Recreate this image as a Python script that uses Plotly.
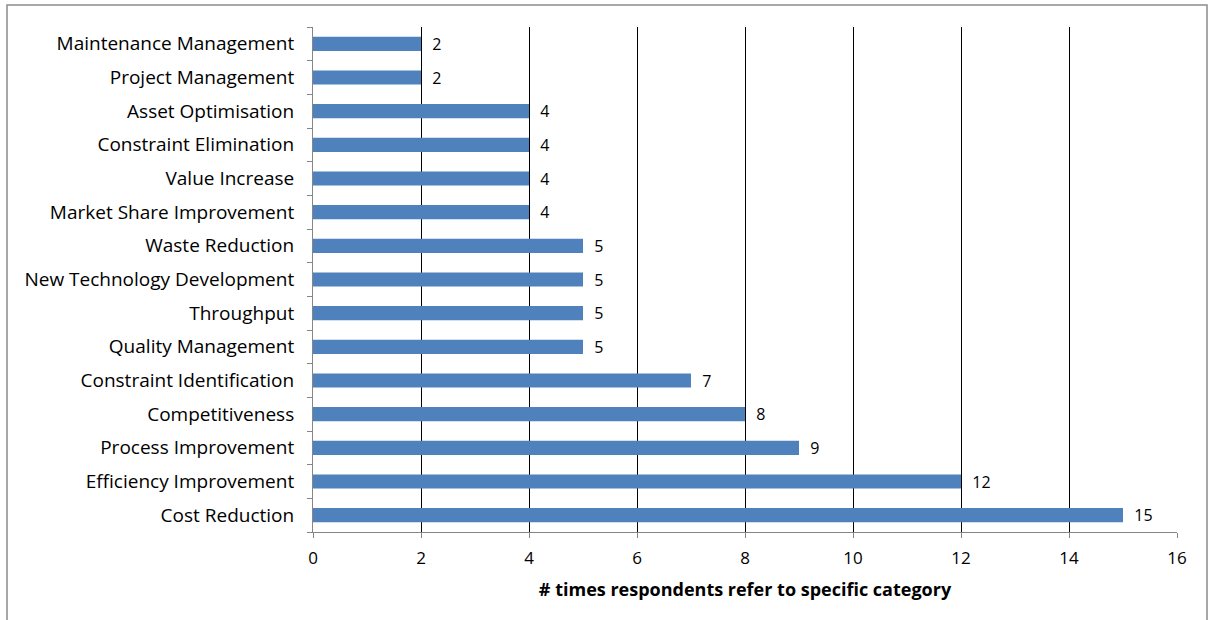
import plotly.graph_objects as go

categories = ["Cost Reduction", "Efficiency Improvement", "Process Improvement", "Competitiveness",
              "Constraint Identification", "Quality Management", "Throughput",
              "New Technology Development", "Waste Reduction", "Market Share Improvement",
              "Value Increase", "Constraint Elimination", "Asset Optimisation",
              "Project Management", "Maintenance Management"]
values = [15, 12, 9, 8, 7, 5, 5, 5, 5, 4, 4, 4, 4, 2, 2]
x_ticks = [0, 2, 4, 6, 8, 10, 12, 14, 16]
x_title = "# times respondents refer to specific category"

FONT = "'Open Sans', 'Noto Sans', sans-serif"

fig = go.Figure(go.Bar(
    y=categories, x=values, orientation="h",
    marker=dict(color="#4F81BD", line=dict(width=0)),
    width=0.42,
    text=["  " + str(v) for v in values], textposition="outside",
    textfont=dict(family=FONT, size=16, color="#000000"),
    constraintext="none",
    cliponaxis=False,
))

fig.update_layout(
    width=1211, height=620,
    margin=dict(l=313, r=34, t=27, b=88),
    paper_bgcolor="white", plot_bgcolor="white",
    showlegend=False,
    font=dict(family=FONT, size=17, color="#000000"),
    xaxis=dict(
        range=[0, 16], tickvals=x_ticks, showgrid=True, gridcolor="#000000", gridwidth=1,
        showline=True, linecolor="#868686", linewidth=1,
        ticks="outside", ticklen=5, tickcolor="#868686", ticklabelstandoff=6,
        tickfont=dict(family=FONT, size=17), zeroline=False,
        title=dict(text="<b>" + x_title + "</b>", font=dict(family=FONT, size=18), standoff=14),
    ),
    yaxis=dict(
        type="category", categoryorder="array", categoryarray=categories,
        showline=True, linecolor="#868686", linewidth=1,
        ticks="outside", ticklen=5, tickcolor="#868686", tickson="boundaries",
        ticklabelstandoff=14,
        showgrid=False, tickfont=dict(family=FONT, size=19),
        range=[-0.5, len(categories) - 0.5],
    ),
)

fig.add_shape(type="rect", xref="paper", yref="paper",
              x0=(7 - 313) / 864, x1=(1207 - 313) / 864,
              y0=-(660 - 532) / 505, y1=1 + (27 - 5) / 505,
              line=dict(color="#8c8c8c", width=1.5), fillcolor="rgba(0,0,0,0)", layer="below")

fig.write_html("out.html", config={"displayModeBar": False},
               post_script="document.body.style.margin='0';")
